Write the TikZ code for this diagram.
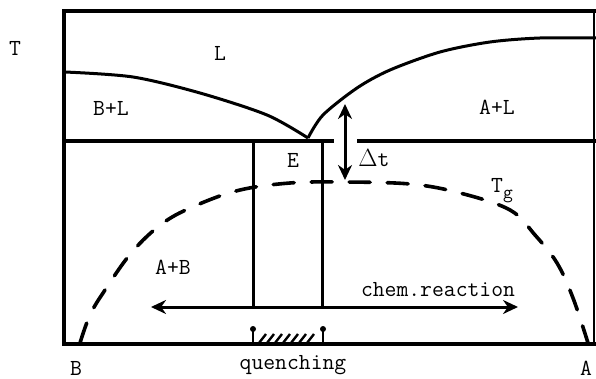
\documentclass[tikz,border=0pt]{standalone}
\usetikzlibrary{arrows.meta}
\begin{document}
\begin{tikzpicture}[x=1pt,y=-1pt,
  frame/.style={line width=3.8pt},
  curve/.style={line width=3pt, line join=round},
  vline/.style={line width=3pt},
  arch/.style={line width=3.6pt, dash pattern=on 21pt off 17pt, line cap=round},
  dbl/.style={line width=3pt, {Stealth[length=15pt,width=14pt]}-{Stealth[length=15pt,width=14pt]}},
  lbl/.style={font=\ttfamily\fontsize{23}{23}\selectfont, inner sep=0pt}]
\useasboundingbox (0,0) rectangle (596,379);
% frame
\coordinate (TL) at (64,11);
\coordinate (TR) at (596,11);
\coordinate (BL) at (64,344);
\coordinate (BR) at (596,344);
\draw[frame] (TR) -- (TL) -- (BL) -- (BR);
\draw[line width=1.5pt] (594,11) -- (594,344);
% eutectic line
\coordinate (EL0) at (64,141);
\coordinate (EL1) at (334,141);
\coordinate (ER0) at (357,141);
\coordinate (ER1) at (596,141);
\draw[frame] (EL0) -- (EL1);
\draw[frame] (ER0) -- (ER1);
% liquidus curves
\coordinate (E) at (308,138);
\draw[curve] plot[smooth] coordinates {(65,72) (133,77) (200,93) (267,115) (308,138)};
\draw[curve] plot[smooth] coordinates {(308,138) (323,115) (357,88) (390,70) (440,52) (490,42) (540,38) (596,38)};
% Tg arch
\draw[arch] plot[smooth, tension=0.6] coordinates {(80,343) (90,315) (105,290) (132,252) (163,223) (197,205) (240,190) (290,183) (340,182) (410,184) (460,193) (510,210) (535,235) (557,263) (573,298) (588,343)};
% vertical lines
\coordinate (V1t) at (253,141);
\coordinate (V1b) at (253,307);
\coordinate (V2t) at (322,141);
\coordinate (V2b) at (322,307);
\draw[vline] (V1t) -- (V1b);
\draw[vline] (V2t) -- (V2b);
% arrows
\coordinate (CRl) at (151,307);
\coordinate (CRr) at (518,307);
\draw[dbl] (CRl) -- (CRr);
\coordinate (DTt) at (345,104);
\coordinate (DTb) at (345,180);
\draw[dbl] (DTt) -- (DTb);
% quenching hatch
\foreach \x in {259,267,...,311} \draw[line width=2.4pt] (\x,343) -- (\x+7,334);
\coordinate (Q1) at (253,343);
\coordinate (Q2) at (323,343);
\draw[line width=2.6pt] (Q1) -- ++(0,-12);
\draw[line width=2.6pt] (Q2) -- ++(0,-12);
\fill (253,329) circle (3);
\fill (323,329) circle (3);
% labels
\node[lbl] (T) at (15,48) {T};
\node[lbl] (L) at (220,53) {L};
\node[lbl] (BpL) at (111,108) {B+L};
\node[lbl] (ApL) at (497,107) {A+L};
\node[lbl] (ApB) at (173,267) {A+B};
\node[lbl] (Elab) at (293,160) {E};
\node[lbl] (dt) at (374,158) {$\Delta$t};
\node[lbl] (Tg) at (502,191) {T\raisebox{-6pt}{\fontsize{19}{19}\selectfont g}};
\node[lbl] (chem) at (438,290) {chem.reaction};
\node[lbl] (quench) at (293,365) {quenching};
\node[lbl, anchor=base] (B) at (76,375) {B};
\node[lbl, anchor=base] (A) at (586,375) {A};
\end{tikzpicture}
\end{document}
